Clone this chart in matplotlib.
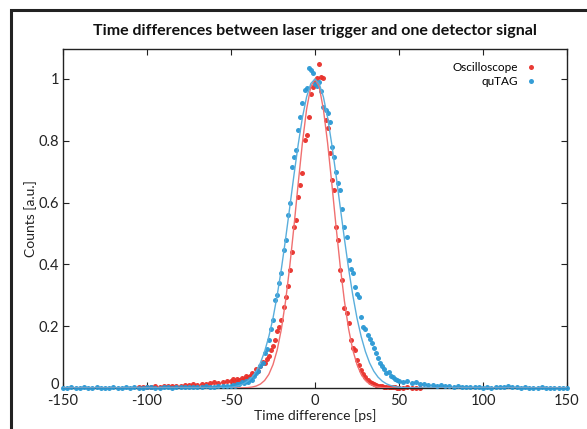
import numpy as np
import matplotlib
matplotlib.use('Agg')
import matplotlib.pyplot as plt
import matplotlib.transforms as mtransforms
from matplotlib.patches import Rectangle

plt.rcParams['font.family'] = ['Lato', 'DejaVu Sans']
plt.rcParams['axes.unicode_minus'] = False

# --- data ---
x_core = np.arange(-50, 50.01, 1.25)
osc_core = [0.022, 0.030, 0.018, 0.028, 0.025, 0.032, 0.030, 0.038, 0.034, 0.040,
            0.050, 0.045, 0.060, 0.055, 0.070, 0.085, 0.080, 0.095, 0.105, 0.123,
            0.135, 0.155, 0.185, 0.198, 0.220, 0.263, 0.295, 0.330, 0.382, 0.440,
            0.522, 0.544, 0.619, 0.657, 0.695, 0.803, 0.820, 0.878, 0.950, 0.975,
            0.990, 1.002, 1.047, 1.007, 1.002, 0.867, 0.840, 0.759, 0.673, 0.641,
            0.522, 0.479, 0.382, 0.350, 0.260, 0.242, 0.209, 0.155, 0.130, 0.123,
            0.091, 0.075, 0.058, 0.045, 0.035, 0.026, 0.020, 0.015, 0.012, 0.010,
            0.008, 0.006, 0.005, 0.004, 0.004, 0.003, 0.003, 0.002, 0.002, 0.001,
            0.001]
qutag_core = [0.006, 0.010, 0.008, 0.014, 0.012, 0.018, 0.016, 0.022, 0.020, 0.028,
              0.026, 0.040, 0.048, 0.055, 0.072, 0.080, 0.112, 0.125, 0.155, 0.190,
              0.220, 0.285, 0.300, 0.339, 0.371, 0.447, 0.479, 0.560, 0.598, 0.716,
              0.749, 0.770, 0.835, 0.878, 0.921, 0.964, 0.970, 1.035, 1.029, 1.018,
              0.985, 0.978, 0.990, 0.960, 0.910, 0.900, 0.889, 0.860, 0.781, 0.749,
              0.700, 0.662, 0.641, 0.580, 0.522, 0.490, 0.414, 0.385, 0.371, 0.328,
              0.305, 0.295, 0.231, 0.198, 0.190, 0.172, 0.160, 0.145, 0.128, 0.112,
              0.098, 0.080, 0.072, 0.060, 0.048, 0.052, 0.040, 0.036, 0.030, 0.026,
              0.022]

x_osc_left = np.arange(-105, -51, 2.5)
osc_left = [0.003, 0.002, 0.004, 0.003, 0.005, 0.004, 0.006, 0.005, 0.007, 0.006,
            0.008, 0.010, 0.009, 0.012, 0.011, 0.014, 0.013, 0.016, 0.018, 0.017,
            0.020, 0.024]
x_osc_right = np.arange(52.5, 63, 2.5)
osc_right = [0.001, 0.002, 0.001, 0.000, 0.001]

x_qt_left = np.arange(-150, -51, 2.5)
qutag_left = [0.001, 0.000, 0.002, 0.000, 0.001, 0.003, 0.000, 0.001, 0.002, 0.000,
              0.001, 0.000, 0.002, 0.001, 0.000, 0.003, 0.001, 0.002, 0.000, 0.001,
              0.002, 0.003, 0.001, 0.000, 0.002, 0.003, 0.001, 0.002, 0.004, 0.002,
              0.003, 0.002, 0.004, 0.003, 0.005, 0.004, 0.003, 0.006, 0.005, 0.007]
x_qt_right = np.arange(52.5, 150.01, 2.5)
qutag_right = [0.020, 0.022, 0.015, 0.018, 0.012, 0.014, 0.010, 0.011, 0.008, 0.009,
               0.006, 0.007, 0.004, 0.005, 0.003, 0.004, 0.002, 0.003, 0.002, 0.001,
               0.002, 0.001, 0.003, 0.004, 0.002, 0.005, 0.003, 0.002, 0.001, 0.002,
               0.001, 0.000, 0.001, 0.002, 0.000, 0.001, 0.000, 0.001, 0.000, 0.001]

# gaussian fit curves, sampled
x_fit = np.concatenate(([-150], np.arange(-60, 60.01, 2.5), [150]))
osc_fit = [0, 0, 0, 0, 0, 0, 0.0001, 0.0002, 0.0006, 0.0013, 0.0030, 0.0063, 0.0127,
           0.0243, 0.0439, 0.0756, 0.123, 0.191, 0.282, 0.395, 0.524, 0.662, 0.793,
           0.902, 0.975, 1.0, 0.975, 0.902, 0.793, 0.662, 0.524, 0.395, 0.282, 0.191,
           0.123, 0.0756, 0.0439, 0.0243, 0.0127, 0.0063, 0.0030, 0.0013, 0.0006,
           0.0002, 0.0001, 0, 0, 0, 0, 0, 0]
qutag_fit = [0, 0.0002, 0.0004, 0.0007, 0.0014, 0.0026, 0.0047, 0.0081, 0.0136, 0.0223,
             0.0353, 0.0543, 0.0811, 0.118, 0.166, 0.226, 0.300, 0.386, 0.483, 0.586,
             0.690, 0.788, 0.875, 0.942, 0.985, 1.0, 0.985, 0.942, 0.875, 0.788, 0.690,
             0.586, 0.483, 0.386, 0.300, 0.226, 0.166, 0.118, 0.0811, 0.0543, 0.0353,
             0.0223, 0.0136, 0.0081, 0.0047, 0.0026, 0.0014, 0.0007, 0.0004, 0.0002, 0]

red = '#e8302a'
blue = '#2a98d4'

fig = plt.figure(figsize=(5.87, 4.29), dpi=100)
ax = fig.add_axes([63 / 587, 1 - 388 / 429, 504 / 587, 339 / 429])

x_osc = np.concatenate((x_osc_left, x_core, x_osc_right))
y_osc = np.concatenate((osc_left, osc_core, osc_right))
x_qt = np.concatenate((x_qt_left, x_core, x_qt_right))
y_qt = np.concatenate((qutag_left, qutag_core, qutag_right))

ax.plot(x_osc, y_osc, 'o', color=red, ms=3.6, mec='none', alpha=0.95,
        label='Oscilloscope', clip_on=False, zorder=2)
ax.plot(x_qt, y_qt, 'o', color=blue, ms=3.6, mec='none', alpha=0.95,
        label='quTAG', clip_on=False, zorder=3)
ax.plot(x_fit, osc_fit, '-', color='#f07070', lw=1.0, zorder=4)
ax.plot(x_fit, qutag_fit, '-', color='#5aaedc', lw=1.0, zorder=4)

ax.set_xlim(-150, 150)
ax.set_ylim(0, 1.097)
ax.set_xticks([-150, -100, -50, 0, 50, 100, 150])
ax.set_yticks([0, 0.2, 0.4, 0.6, 0.8, 1])
ax.set_yticklabels(['0', '0.2', '0.4', '0.6', '0.8', '1'])
ax.tick_params(direction='in', length=4, width=0.8, top=True, right=True,
               labelsize=10.5, colors='#222222')
ax.tick_params(axis='x', pad=4)
ax.tick_params(axis='y', pad=3)
for s in ax.spines.values():
    s.set_linewidth(1.0)
    s.set_color('#222222')

# lift the "0" on the y axis a little so it clears "-150"
zero_lbl = ax.get_yticklabels()[0]
zero_lbl.set_transform(zero_lbl.get_transform() +
                       mtransforms.ScaledTranslation(0, 3 / 72, fig.dpi_scale_trans))

ax.set_xlabel('Time difference [ps]', fontsize=10, labelpad=1, color='#222222')
ax.set_ylabel('Counts [a.u.]', fontsize=10, labelpad=1, color='#222222')
ax.set_title('Time differences between laser trigger and one detector signal',
             fontsize=11.5, fontweight='bold', pad=10, color='#111111')

leg = ax.legend(loc='upper right', bbox_to_anchor=(0.955, 0.985), frameon=False,
                markerfirst=False, fontsize=8.5, handlelength=0.8,
                handletextpad=0.7, borderaxespad=0.3, labelspacing=0.2)

# outer frame, cropped at right and bottom
fig.add_artist(Rectangle((11 / 587, -0.1), 1.2, 1.1 - 10 / 429,
                         transform=fig.transFigure, fill=False,
                         lw=2.2, ec='#222222'))

fig.savefig('out.png', dpi=100)
